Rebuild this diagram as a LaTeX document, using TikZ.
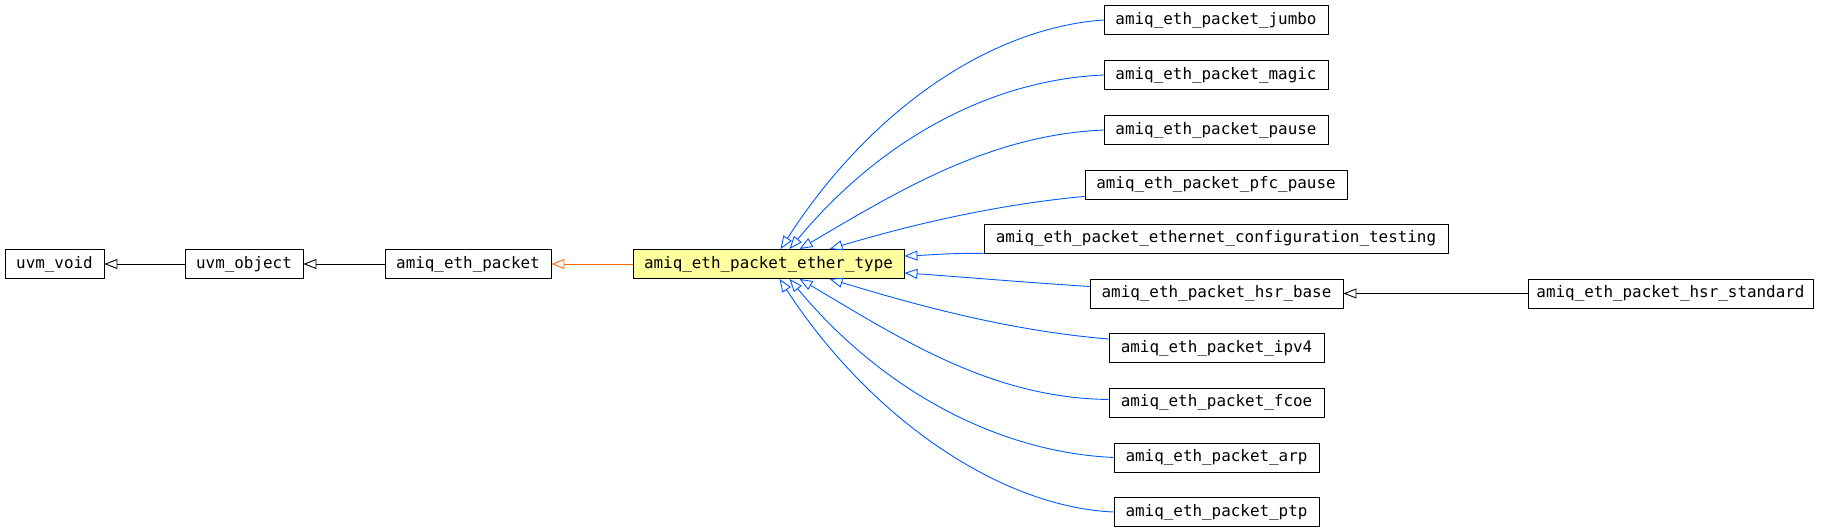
\documentclass[tikz,border=0pt]{standalone}
\usepackage{fontspec}
\newfontfamily\diagmono{DejaVu Sans Mono}
\usetikzlibrary{arrows.meta,calc}
\definecolor{edgeblue}{HTML}{005AFF}
\definecolor{edgeorange}{HTML}{FF6A00}
\definecolor{hiyellow}{HTML}{FFFFA0}
\tikzset{
  cls/.style={draw=black, line width=0.9pt, minimum height=29pt, inner sep=0pt, fill=white,
    font=\diagmono\fontsize{15.9}{18}\selectfont},
  inh/.style={line width=0.9pt, -{Triangle[open, length=13pt, width=10pt]}},
  blueinh/.style={inh, draw=edgeblue},
  blackinh/.style={inh, draw=black},
  orangeinh/.style={inh, draw=edgeorange}
}
\begin{document}
\begin{tikzpicture}[x=1pt,y=-1pt]
\useasboundingbox (0,0) rectangle (1824,532);
% left chain
\node[cls, minimum width=99pt]  (void) at (54.5,264) {uvm\_void};
\node[cls, minimum width=118pt] (obj)  at (244,264) {uvm\_object};
\node[cls, minimum width=166pt] (pkt)  at (468,264) {amiq\_eth\_packet};
\node[cls, minimum width=271pt, fill=hiyellow] (et) at (768.5,264) {amiq\_eth\_packet\_ether\_type};
% children
\node[cls, minimum width=224pt] (jumbo) at (1216,20)    {amiq\_eth\_packet\_jumbo};
\node[cls, minimum width=224pt] (magic) at (1216,75)    {amiq\_eth\_packet\_magic};
\node[cls, minimum width=224pt] (pause) at (1216,130)   {amiq\_eth\_packet\_pause};
\node[cls, minimum width=262pt] (pfc)   at (1216,184.5) {amiq\_eth\_packet\_pfc\_pause};
\node[cls, minimum width=464pt] (ect)   at (1216,238.5) {amiq\_eth\_packet\_ethernet\_configuration\_testing};
\node[cls, minimum width=253pt] (hsrb)  at (1216.5,293.5) {amiq\_eth\_packet\_hsr\_base};
\node[cls, minimum width=285pt] (hsrs)  at (1670.5,293.5) {amiq\_eth\_packet\_hsr\_standard};
\node[cls, minimum width=215pt] (ipv4)  at (1216.5,348) {amiq\_eth\_packet\_ipv4};
\node[cls, minimum width=215pt] (fcoe)  at (1216.5,402.5) {amiq\_eth\_packet\_fcoe};
\node[cls, minimum width=205pt] (arp)   at (1216.5,457.5) {amiq\_eth\_packet\_arp};
\node[cls, minimum width=205pt] (ptp)   at (1216.5,512) {amiq\_eth\_packet\_ptp};
% arrow tip points on et
\coordinate (tA) at ($(et.north west)+(148,0)$);
\coordinate (tB) at ($(et.north west)+(157,0)$);
\coordinate (tC) at ($(et.north west)+(167,0)$);
\coordinate (tD) at ($(et.north west)+(197,0)$);
\coordinate (bA) at ($(et.south west)+(147,0)$);
\coordinate (bB) at ($(et.south west)+(157,0)$);
\coordinate (bC) at ($(et.south west)+(167,0)$);
\coordinate (bD) at ($(et.south west)+(197,0)$);
\coordinate (rA) at ($(et.north east)+(0,7)$);
\coordinate (rB) at ($(et.south east)+(0,-6)$);
% left chain edges
\draw[blackinh] (obj.west) -- (void.east);
\draw[blackinh] (pkt.west) -- (obj.east);
\draw[orangeinh] (et.west) -- (pkt.east);
\draw[blackinh] (hsrs.west) -- (hsrb.east);
% blue edges top
\draw[blueinh] (jumbo.west) .. controls (990,28) and (870,110) .. (tA);
\draw[blueinh] (magic.west) .. controls (990,80) and (880,140) .. (tB);
\draw[blueinh] (pause.west) .. controls (990,135) and (900,190) .. (tC);
\draw[blueinh] ($(pfc.south west)+(0,-3)$) .. controls (990,205) and (900,228) .. (tD);
\draw[blueinh] (ect.south west) .. controls (950,253) and (930,255) .. (rA);
\draw[blueinh] ($(hsrb.west)+(0,-7)$) .. controls (1020,282) and (950,276) .. (rB);
% blue edges bottom
\draw[blueinh] ($(ipv4.west)+(0,-9)$) .. controls (1000,330) and (900,300) .. (bD);
\draw[blueinh] ($(fcoe.west)+(0,-3)$) .. controls (990,398) and (900,338) .. (bC);
\draw[blueinh] (arp.west) .. controls (995,452) and (880,388) .. (bB);
\draw[blueinh] (ptp.west) .. controls (1000,507) and (870,418) .. (bA);
\end{tikzpicture}
\end{document}
